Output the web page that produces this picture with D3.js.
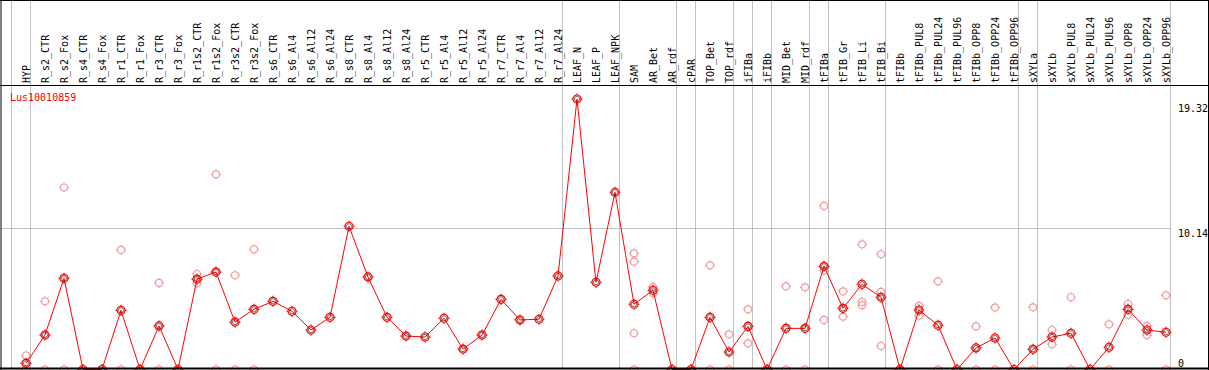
<!DOCTYPE html>
<html>
<head>
<meta charset="utf-8">
<script src="https://cdn.jsdelivr.net/npm/d3@7"></script>
<style>
  body { margin: 0; background: #fff; }
  text { font-family: "DejaVu Sans Mono", monospace; font-size: 10px; }
</style>
</head>
<body>
<div id="chart"></div>
<script>
// sample names across the top
var categories = ["HYP", "R_s2_CTR", "R_s2_Fox", "R_s4_CTR", "R_s4_Fox", "R_r1_CTR", "R_r1_Fox",
  "R_r3_CTR", "R_r3_Fox", "R_r1s2_CTR", "R_r1s2_Fox", "R_r3s2_CTR", "R_r3s2_Fox",
  "R_s6_CTR", "R_s6_Al4", "R_s6_Al12", "R_s6_Al24", "R_s8_CTR", "R_s8_Al4", "R_s8_Al12", "R_s8_Al24",
  "R_r5_CTR", "R_r5_Al4", "R_r5_Al12", "R_r5_Al24", "R_r7_CTR", "R_r7_Al4", "R_r7_Al12", "R_r7_Al24",
  "LEAF_N", "LEAF_P", "LEAF_NPK", "SAM", "AR_Bet", "AR_rdf", "cPAR", "TOP_Bet", "TOP_rdf",
  "iFIBa", "iFIBb", "MID_Bet", "MID_rdf", "tFIBa", "tFIB_Gr", "tFIB_Li", "tFIB_Bi", "tFIBb",
  "tFIBb_PUL8", "tFIBb_PUL24", "tFIBb_PUL96", "tFIBb_OPP8", "tFIBb_OPP24", "tFIBb_OPP96",
  "sXYLa", "sXYLb", "sXYLb_PUL8", "sXYLb_PUL24", "sXYLb_PUL96", "sXYLb_OPP8", "sXYLb_OPP24", "sXYLb_OPP96"];

// mean expression per sample
var meanValues = [0.44, 2.46, 6.51, 0, 0, 4.23, 0,
  3.11, 0, 6.46, 6.96, 3.39, 4.30,
  4.87, 4.16, 2.82, 3.73, 10.23, 6.61, 3.73, 2.39,
  2.32, 3.66, 1.46, 2.46, 5.01, 3.54, 3.59, 6.68,
  19.32, 6.23, 12.66, 4.66, 5.66, 0, 0, 3.73, 1.25,
  3.08, 0, 2.94, 2.94, 7.37, 4.37, 6.09, 5.16, 0,
  4.25, 3.16, 0, 1.54, 2.25, 0,
  1.44, 2.32, 2.59, 0, 1.59, 4.30, 2.82, 2.66];

// individual replicates (pale circles)
var replicates = {
  "HYP": [1.0, 0], "R_s2_CTR": [4.87, 0], "R_s2_Fox": [13.0, 0],
  "R_r1_CTR": [8.54, 0], "R_r3_CTR": [6.18, 0], "R_r1s2_CTR": [6.82, 6.16],
  "R_r1s2_Fox": [13.94, 0], "R_r3s2_CTR": [6.73, 0], "R_r3s2_Fox": [8.59, 0],
  "SAM": [8.3, 7.7, 2.59, 0], "AR_Bet": [5.89, 5.44], "TOP_Bet": [7.44, 0], "TOP_rdf": [2.51, 0],
  "iFIBa": [4.3, 1.87], "MID_Bet": [5.94, 0], "MID_rdf": [5.87, 0],
  "tFIBa": [11.68, 7.09, 3.54], "tFIB_Gr": [5.58, 3.77], "tFIB_Li": [8.94, 4.82, 4.59],
  "tFIB_Bi": [8.23, 5.54, 1.68], "tFIBb_PUL8": [4.54, 3.84], "tFIBb_PUL24": [6.3, 0],
  "tFIBb_OPP8": [3.08, 0], "tFIBb_OPP24": [4.42, 0], "sXYLa": [4.44, 0],
  "sXYLb": [2.82, 1.8], "sXYLb_PUL8": [5.16, 0], "sXYLb_PUL96": [3.23, 0],
  "sXYLb_OPP8": [4.68, 3.91], "sXYLb_OPP24": [3.11, 2.46], "sXYLb_OPP96": [5.3, 0]
};

// first sample of each group gets a separator line
var groupStarts = ["HYP", "R_s2_CTR", "LEAF_N", "SAM", "cPAR", "TOP_Bet", "iFIBa", "iFIBb",
  "MID_Bet", "tFIBa", "tFIB_Gr", "tFIBb", "sXYLa", "sXYLb"];
var yTicks = [0, 10.14, 19.32];
var geneName = "Lus10010859";

var width = 1209, height = 370, headerBottom = 85.5, plotBottom = 368.5;

var svg = d3.select("#chart").append("svg")
  .attr("width", width).attr("height", height);

svg.append("rect").attr("width", width).attr("height", height).attr("fill", "#fff");

var x = d3.scalePoint().domain(categories).range([26, 1166]);
var step = x.step();
var y = d3.scaleLinear().domain([0, 19.32]).range([369.5, 99]);

// vertical separators
var sepX = groupStarts.map(function (c) { return x(c) - step + 4.5; });
sepX.push(x(categories[categories.length - 1]) + 4.5);
svg.selectAll(".vsep").data(sepX).enter().append("line")
  .attr("x1", function (d) { return d; }).attr("x2", function (d) { return d; })
  .attr("y1", 0).attr("y2", plotBottom)
  .attr("stroke", "#c0c0c0").attr("stroke-width", 1);

// horizontal grid at middle tick
svg.append("line")
  .attr("x1", 1).attr("x2", sepX[sepX.length - 1])
  .attr("y1", Math.round(y(10.14)) + 0.5).attr("y2", Math.round(y(10.14)) + 0.5)
  .attr("stroke", "#c0c0c0");

// column labels
svg.selectAll(".lab").data(categories).enter().append("text")
  .attr("transform", function (d) { return "translate(" + (x(d) + 4) + ",83)rotate(-90)"; })
  .attr("fill", "#000")
  .text(function (d) { return d; });

// right value axis
var axis = svg.append("g")
  .attr("transform", "translate(" + sepX[sepX.length - 1] + ",0)")
  .call(d3.axisRight(y).tickValues(yTicks).tickSize(0).tickPadding(7.5)
    .tickFormat(function (d) { return d === 0 ? "0" : d3.format(".2f")(d); }));
axis.select(".domain").remove();
axis.selectAll("text")
  .attr("fill", "#000")
  .style("font-family", "DejaVu Sans Mono, monospace").style("font-size", "10px")
  .attr("dy", function (d) { return d === 0 ? -3.5 : (d > 15 ? 12 : 8.5); });

function marker(g, r, color) {
  g.append("circle").attr("r", r).attr("fill", "none").attr("stroke", color).attr("stroke-width", 1.2);
  g.append("path")
    .attr("d", "M0," + (-r - 1.5) + "V" + (-r) + "M0," + (r) + "V" + (r + 1.5) +
      "M" + (-r - 1.5) + ",0H" + (-r) + "M" + r + ",0H" + (r + 1.5))
    .attr("stroke", color).attr("stroke-width", 1.2);
}

// replicate points
var repPts = [];
categories.forEach(function (c) {
  (replicates[c] || []).forEach(function (v) { repPts.push({ c: c, v: v }); });
});
svg.selectAll(".rep").data(repPts).enter().append("g")
  .attr("transform", function (d) { return "translate(" + x(d.c) + "," + y(d.v) + ")"; })
  .each(function () { marker(d3.select(this), 3.5, "#f0a0a0"); });

// mean line
var pts = categories.map(function (c, i) { return { c: c, v: meanValues[i] }; });
svg.append("path").datum(pts)
  .attr("fill", "none").attr("stroke", "#ff0000").attr("stroke-width", 1)
  .attr("d", d3.line().x(function (d) { return x(d.c); }).y(function (d) { return y(d.v); }));

svg.selectAll(".mean").data(pts).enter().append("g")
  .attr("transform", function (d) { return "translate(" + x(d.c) + "," + y(d.v) + ")"; })
  .each(function () {
    var g = d3.select(this);
    marker(g, 4, "#ff0000");
    g.append("circle").attr("r", 2.6).attr("fill", "none").attr("stroke", "#300").attr("stroke-width", 0.6);
  });

// frame
svg.append("line").attr("x1", 0).attr("x2", width).attr("y1", 0.5).attr("y2", 0.5).attr("stroke", "#000");
svg.append("line").attr("x1", 0).attr("x2", width).attr("y1", headerBottom).attr("y2", headerBottom).attr("stroke", "#000");
svg.append("line").attr("x1", 0).attr("x2", width).attr("y1", plotBottom).attr("y2", plotBottom).attr("stroke", "#000").attr("stroke-width", 2);
svg.append("line").attr("x1", 1).attr("x2", 1).attr("y1", 0).attr("y2", height).attr("stroke", "#000");
svg.append("line").attr("x1", 1208.5).attr("x2", 1208.5).attr("y1", 0).attr("y2", height).attr("stroke", "#000");

svg.append("text").attr("x", 10).attr("y", 101).attr("fill", "#ff0000").text(geneName);
</script>
</body>
</html>
